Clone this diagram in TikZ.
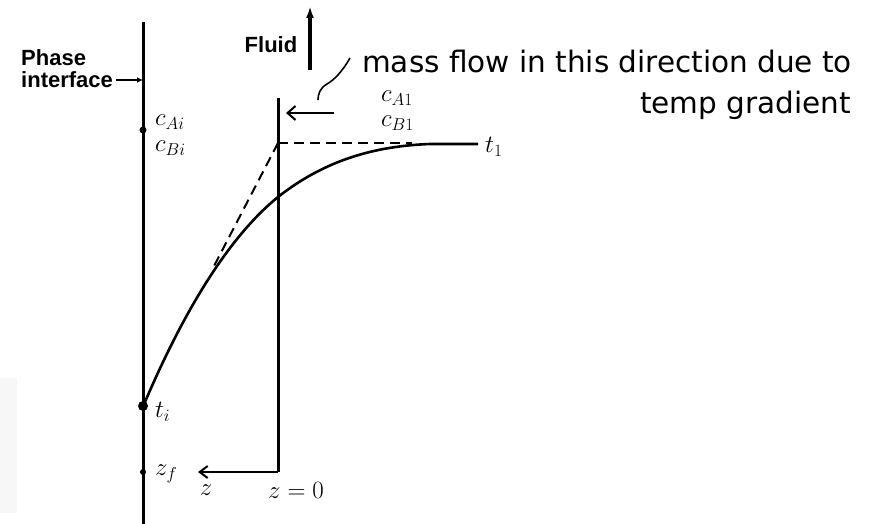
\documentclass[tikz,border=0pt]{standalone}
\usepackage{fontspec}
\setsansfont{Liberation Sans}
\newfontfamily\handfont{DejaVu Sans}
\usepackage{tikz}
\usetikzlibrary{arrows.meta,positioning,calc}
\tikzset{
    wall/.style={line width=3pt},
    profile/.style={line width=2.6pt},
    guide/.style={line width=2pt, dash pattern=on 10pt off 6pt},
    lbl/.style={font=\fontsize{26}{28}\selectfont, inner sep=1pt},
    tag/.style={font=\sffamily\bfseries\fontsize{22}{24}\selectfont, inner sep=0pt},
    hand/.style={font=\handfont\fontsize{29.5}{33}\selectfont, inner sep=0pt},
    flowarrow/.style={-{Straight Barb[length=8pt,width=14pt]}, line width=2pt},
    uparrow/.style={-{Latex[length=12pt,width=8pt]}, line width=3.4pt}
}

\begin{document}
\begin{tikzpicture}[x=1pt,y=-1pt]
    \useasboundingbox (0,0) rectangle (878,524);
    \fill[gray!6] (0,378) rectangle (17,513);

    % Walls
    \coordinate (ifTop) at (143,22);
    \coordinate (ifBot) at (143,524);
    \coordinate (wallTop) at (278,98);
    \coordinate (origin) at (278,472);
    \coordinate (zEnd) at (198,472);
    \draw[wall] (ifTop) -- (ifBot);
    \draw[wall] (wallTop) -- (origin);
    \draw[line width=2pt,-{Straight Barb[length=8pt,width=12pt]}] (origin) -- (zEnd);

    % Interface marks
    \fill (143,130) circle (3.5pt);
    \node[circle,fill,inner sep=0pt,minimum size=10pt] (ti) at (143,406) {};
    \fill (143,472) circle (3pt);

    % Phase interface label
    \node[tag,anchor=west] (iface) at (21,80) {interface};
    \node[tag,anchor=south west] (phase) at ([yshift=6pt]iface.north west) {Phase};
    \draw[-{Latex[length=6pt,width=6pt]},line width=1.5pt] (iface.east) ++(3pt,0) -- (iface.east -| ifTop);

    % Fluid arrow
    \node[tag] (fluid) at (271,45) {Fluid};
    \coordinate (fluidLo) at (310,70);
    \coordinate (fluidHi) at (310,6);
    \draw[uparrow] (fluidLo) -- (fluidHi);

    % Concentrations
    \node[lbl,anchor=west] (cAi) at (154,122) {$c_{Ai}$};
    \node[lbl,anchor=west] (cBi) at (154,148) {$c_{Bi}$};
    \node[lbl,anchor=west] (cA1) at (380,98) {$c_{A1}$};
    \node[lbl,anchor=west] (cB1) at (380,123) {$c_{B1}$};
    \node[lbl,anchor=west] (t1) at (484,147) {$t_1$};
    \node[lbl,anchor=west] (tiL) at (154,412) {$t_i$};
    \node[lbl,anchor=west] (zf) at (154,474) {$z_f$};
    \node[lbl] (zL) at (206,490) {$z$};
    \node[lbl] (z0) at (296,490) {$z=0$};

    % Temperature profile
    \coordinate (tEnd) at (478,144);
    \draw[profile] (ti.center) -- (145,402) .. controls (180,320) and (225,240) .. (278,197)
        .. controls (325,160) and (375,146) .. (430,144) -- (tEnd);
    \draw[guide] (278,143) -- (412,143);
    \draw[guide] (278,143) -- (213,268);

    % Mass flow note
    \node[hand,anchor=west] (note) at (362,62) {mass flow in this direction due to};
    \node[hand,anchor=west] (note2) at (640,105) {temp gradient};
    \coordinate (flowTail) at (334,113);
    \coordinate (flowHead) at (286,113);
    \draw[flowarrow] (flowTail) -- (flowHead);
    \draw[line width=1.6pt] (note.west) ++(-12pt,4pt) .. controls (342,72) and (334,80) .. (327,84) .. controls (320,88) and (318,94) .. (318,100);
\end{tikzpicture}
\end{document}
